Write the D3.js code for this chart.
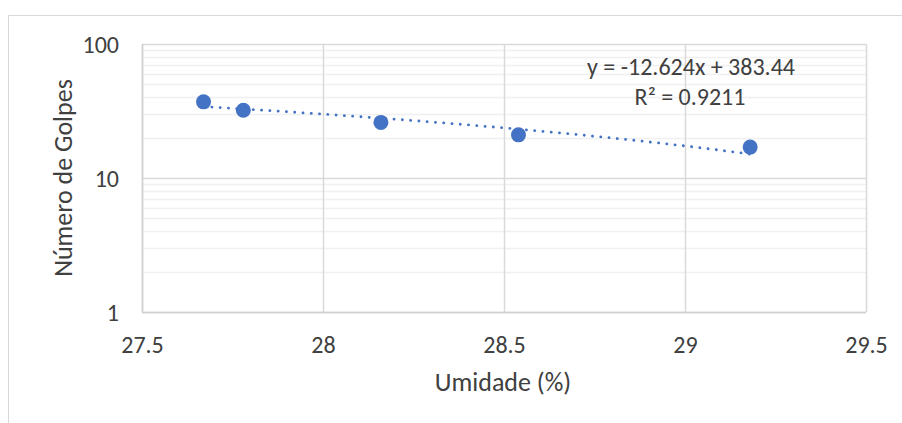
<!DOCTYPE html>
<html><head><meta charset="utf-8">
<script src="https://cdn.jsdelivr.net/npm/d3@7"></script>
<style>
body{margin:0;background:#fff;}
text{font-family:Carlito,Lato,"Open Sans","Noto Sans",sans-serif;fill:#404040;}
</style></head>
<body><svg id="c" width="902" height="423"></svg>
<script>
const umidade = [27.67, 27.78, 28.16, 28.54, 29.18];
const golpes = [37, 32, 26, 21, 17];
const xTicks = [27.5, 28, 28.5, 29, 29.5];
const yTicks = [1, 10, 100];
const trendSlope = -12.624, trendIntercept = 383.44;
const eqLabel = "y = -12.624x + 383.44";
const r2Label = "R² = 0.9211";
const xTitle = "Umidade (%)";
const yTitle = "Número de Golpes";

const svg = d3.select("#c");
const m = {l:142, r:866, t:44, b:312};
const x = d3.scaleLinear().domain([27.5,29.5]).range([m.l,m.r]);
const y = d3.scaleLog().domain([1,100]).range([m.b,m.t]);

// chart frame
svg.append("rect").attr("x",8.5).attr("y",15.5).attr("width",910).attr("height",420)
  .attr("fill","none").attr("stroke","#d9d9d9");

// minor horizontal gridlines
const minor = [];
[1,10].forEach(d=>{for(let k=2;k<=9;k++) minor.push(d*k);});
svg.append("g").selectAll("line").data(minor).join("line")
  .attr("x1",m.l).attr("x2",m.r).attr("y1",d=>Math.round(y(d))+0.5).attr("y2",d=>Math.round(y(d))+0.5)
  .attr("stroke","#f0f0f0").attr("stroke-width",1.5);
// major horizontal
svg.append("g").selectAll("line").data(yTicks).join("line")
  .attr("x1",m.l).attr("x2",m.r).attr("y1",d=>Math.round(y(d))+0.5).attr("y2",d=>Math.round(y(d))+0.5)
  .attr("stroke","#d9d9d9").attr("stroke-width",1.5);
// vertical
svg.append("g").selectAll("line").data(xTicks).join("line")
  .attr("y1",m.t).attr("y2",m.b).attr("x1",d=>Math.round(x(d))+0.5).attr("x2",d=>Math.round(x(d))+0.5)
  .attr("stroke","#d9d9d9").attr("stroke-width",1.5);

// axes labels
const xAxis = d3.axisBottom(x).tickValues(xTicks).tickSize(0).tickFormat(d=>String(d));
const gx = svg.append("g").attr("transform",`translate(0,${m.b})`).call(xAxis);
gx.select(".domain").remove();
gx.selectAll("text").attr("dy",0).attr("y",41).attr("font-size",24).style("fill","#404040");
const yAxis = d3.axisLeft(y).tickValues(yTicks).tickSize(0).tickFormat(d=>String(d));
const gy = svg.append("g").attr("transform",`translate(${m.l},0)`).call(yAxis);
gy.select(".domain").remove();
gy.selectAll("text").attr("x",-23).attr("dy","0.35em").attr("font-size",24).style("fill","#404040");

// axis lines
svg.append("line").attr("x1",m.l+0.5).attr("x2",m.l+0.5).attr("y1",m.t).attr("y2",m.b+0.5).attr("stroke","#d0d0d0").attr("stroke-width",1.5);
svg.append("line").attr("x1",m.l).attr("x2",m.r).attr("y1",m.b+0.5).attr("y2",m.b+0.5).attr("stroke","#d0d0d0").attr("stroke-width",1.5);

// trendline (linear, drawn on log axis)
const xs = d3.range(0,101).map(i=>umidade[0]+(umidade[umidade.length-1]-umidade[0])*i/100);
svg.append("path").datum(xs)
  .attr("d",d3.line().x(d=>x(d)).y(d=>y(trendSlope*d+trendIntercept)))
  .attr("fill","none").attr("stroke","#4472C4").attr("stroke-width",2.8)
  .attr("stroke-dasharray","0.1 8.2").attr("stroke-linecap","round");

// points
svg.append("g").selectAll("circle").data(umidade).join("circle")
  .attr("cx",d=>x(d)).attr("cy",(d,i)=>y(golpes[i])).attr("r",7.5).attr("fill","#4472C4");

// equation
svg.append("text").attr("x",691).attr("y",75).attr("text-anchor","middle").attr("font-size",24).text(eqLabel);
svg.append("text").attr("x",690).attr("y",105).attr("text-anchor","middle").attr("font-size",24).text(r2Label);

// titles
svg.append("text").attr("x",503).attr("y",391).attr("text-anchor","middle").attr("font-size",26).text(xTitle);
svg.append("text").attr("transform","translate(72,178) rotate(-90)").attr("text-anchor","middle").attr("font-size",26).text(yTitle);
</script></body></html>
